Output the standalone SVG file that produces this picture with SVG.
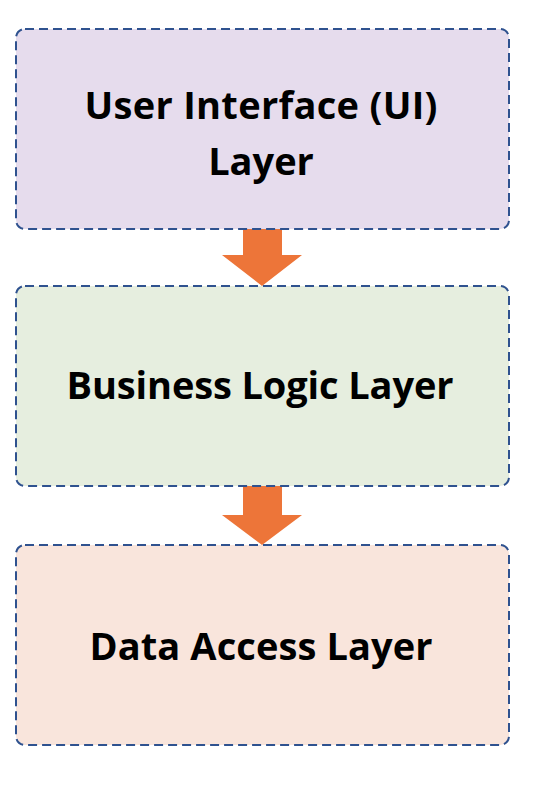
<svg xmlns="http://www.w3.org/2000/svg" width="552" height="786" viewBox="0 0 552 786">
<style>
.box{stroke:#2f528f;stroke-width:2;stroke-dasharray:9,5}
.lbl{font-family:"Open Sans",Lato,"Liberation Sans",sans-serif;font-weight:bold;font-size:38px;fill:#000;text-anchor:middle}
.arrow{fill:#ed7539}
</style>
<rect width="552" height="786" fill="#fff"/>
<g id="connectors">
<polygon class="arrow" points="243,226 282,226 282,255 302,255 262,286 222,255 243,255"/>
<polygon class="arrow" points="243,486 282,486 282,515 302,515 262,545 222,515 243,515"/>
</g>
<g id="ui-layer">
<rect class="box" x="16" y="29" width="493" height="200" rx="9" fill="#e6dced"/>
<text class="lbl" x="261" y="119" textLength="353">User Interface (UI)</text>
<text class="lbl" x="261" y="175">Layer</text>
</g>
<g id="business-layer">
<rect class="box" x="16" y="286" width="493" height="200" rx="9" fill="#e6eedf"/>
<text class="lbl" x="260" y="399" textLength="387">Business Logic Layer</text>
</g>
<g id="data-layer">
<rect class="box" x="16" y="545" width="493" height="200" rx="9" fill="#f9e5dc"/>
<text class="lbl" x="261" y="660" textLength="343">Data Access Layer</text>
</g>
</svg>
